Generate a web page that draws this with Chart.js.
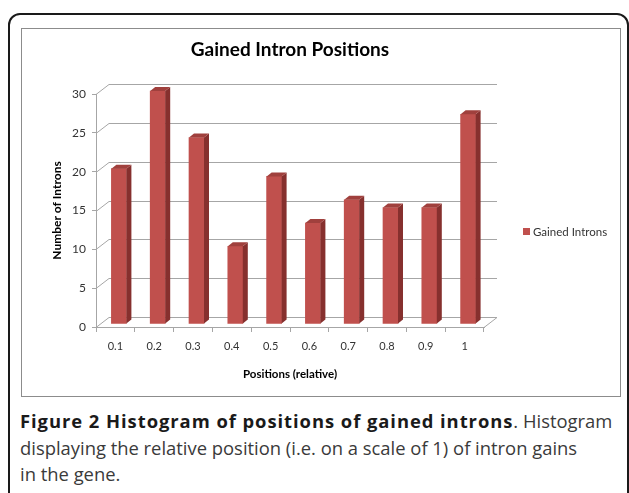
<!DOCTYPE html>
<html><head><meta charset="utf-8">
<script src="https://cdn.jsdelivr.net/npm/chart.js@4.4.1/dist/chart.umd.min.js"></script>
<style>
html,body{margin:0;padding:0;width:629px;height:493px;overflow:hidden;background:#fff;}
#outer{position:absolute;left:8px;top:13px;width:621px;height:600px;border:2px solid #1a1a1a;border-radius:12px;box-sizing:border-box;}
#frame{position:absolute;left:21px;top:28px;width:600px;height:369px;border:1px solid #8c8c8c;box-sizing:border-box;}
#wrap{position:absolute;left:22px;top:29px;width:598px;height:367px;}
#caption{position:absolute;left:20px;top:408px;width:605px;font-family:"Open Sans";font-size:18.4px;line-height:26.5px;color:#3a3a3a;}
#caption div{white-space:nowrap;}
#caption b{color:#1a1a1a;letter-spacing:0.95px;}
</style>
</head><body>
<div id="outer"></div>
<div id="frame"></div>
<div id="wrap"><canvas id="c" width="598" height="367"></canvas></div>
<div id="caption"><div><b>Figure 2 Histogram of positions of gained introns</b>. Histogram</div><div>displaying the relative position (i.e. on a scale of 1) of intron gains</div><div>in the gene.</div></div>
<script>
const categories = ['0.1','0.2','0.3','0.4','0.5','0.6','0.7','0.8','0.9','1'];
const gainedIntrons = [20,30,24,10,19,13,16,15,15,27];
const yTickValues = [0,5,10,15,20,25,30];
const seriesLabel = 'Gained Introns';
const chartTitle = 'Gained Intron Positions';
const xTitle = 'Positions (relative)';
const yTitle = 'Number of Introns';

const FRONT = '#c0504d', SIDE = '#86302e', TOP = '#a0403d', GRID = '#a6a6a6';
const DX = 13, DY = -10;      // back wall offset
const BX = 3.5, BY = -3;      // bar position inside the depth
const BD = 5, BDY = 4;        // bar depth
const FONT = 'Lato';

const depth3d = {
  id: 'depth3d',
  beforeDatasetsDraw(chart) {
    const {ctx, chartArea: a, scales: {y}} = chart;
    ctx.save();
    ctx.strokeStyle = GRID; ctx.lineWidth = 1;
    y.ticks.forEach(t => {
      const py = Math.round(y.getPixelForValue(t.value)) + 0.5;
      ctx.beginPath();
      ctx.moveTo(a.left, py); ctx.lineTo(a.left + DX, py + DY); ctx.lineTo(a.right + DX, py + DY);
      ctx.stroke();
    });
    const p0 = Math.round(y.getPixelForValue(0)) + 0.5;
    ctx.beginPath(); ctx.moveTo(a.right, p0); ctx.lineTo(a.right + DX, p0 + DY); ctx.stroke();
    ctx.restore();
    ctx.save();
    ctx.translate(BX, BY);
  },
  afterDatasetsDraw(chart) {
    const {ctx} = chart;
    chart.getDatasetMeta(0).data.forEach(bar => {
      const {x, y, base, width} = bar.getProps(['x','y','base','width'], true);
      const l = x - width / 2, r = x + width / 2;
      ctx.fillStyle = SIDE;
      ctx.beginPath(); ctx.moveTo(r, y); ctx.lineTo(r + BD, y - BDY); ctx.lineTo(r + BD, base - BDY); ctx.lineTo(r, base); ctx.closePath(); ctx.fill();
      ctx.fillStyle = TOP;
      ctx.beginPath(); ctx.moveTo(l, y); ctx.lineTo(l + BD, y - BDY); ctx.lineTo(r + BD, y - BDY); ctx.lineTo(r, y); ctx.closePath(); ctx.fill();
    });
    ctx.restore();
  },
  afterDraw(chart) {
    const {ctx, chartArea: a} = chart;
    ctx.save();
    ctx.fillStyle = '#000';
    ctx.font = 'bold 19px ' + FONT;
    ctx.textAlign = 'center'; ctx.textBaseline = 'middle';
    ctx.fillText(chartTitle, (a.left + a.right) / 2, 21);
    // legend
    ctx.fillStyle = FRONT;
    ctx.fillRect(a.right + 39, 199, 7, 7);
    ctx.fillStyle = '#333';
    ctx.font = '11.5px ' + FONT;
    ctx.textAlign = 'left';
    ctx.fillText(seriesLabel, a.right + 49, 203);
    ctx.restore();
  }
};

new Chart(document.getElementById('c'), {
  type: 'bar',
  data: {
    labels: categories,
    datasets: [{
      label: seriesLabel,
      data: gainedIntrons,
      backgroundColor: FRONT,
      barThickness: 15,
      clip: false
    }]
  },
  options: {
    responsive: false,
    animation: false,
    layout: {padding: {top: 65, right: 136, left: 0, bottom: 0}},
    plugins: {legend: {display: false}, title: {display: false}, tooltip: {enabled: false}},
    scales: {
      x: {
        afterFit(s) { s.height = 69; },
        grid: {display: true, drawOnChartArea: false, tickLength: 5, color: GRID, offset: true},
        border: {display: true, color: GRID},
        ticks: {font: {family: FONT, size: 11}, color: '#333', padding: 8, maxRotation: 0},
        title: {display: true, text: xTitle, font: {family: FONT, size: 11.5, weight: 'bold'}, color: '#000', padding: {top: 0, bottom: 15}}
      },
      y: {
        min: 0, max: 30,
        afterFit(s) { s.width = 74; },
        afterBuildTicks(s) { s.ticks = yTickValues.map(v => ({value: v})); },
        grid: {display: true, drawOnChartArea: false, tickLength: 4, color: GRID},
        border: {display: true, color: GRID},
        ticks: {font: {family: FONT, size: 12}, color: '#333', padding: 6},
        title: {display: true, text: yTitle, font: {family: FONT, size: 12, weight: 'bold'}, color: '#000', padding: {top: 28, bottom: 0}}
      }
    }
  },
  plugins: [depth3d]
});
</script>
</body></html>
